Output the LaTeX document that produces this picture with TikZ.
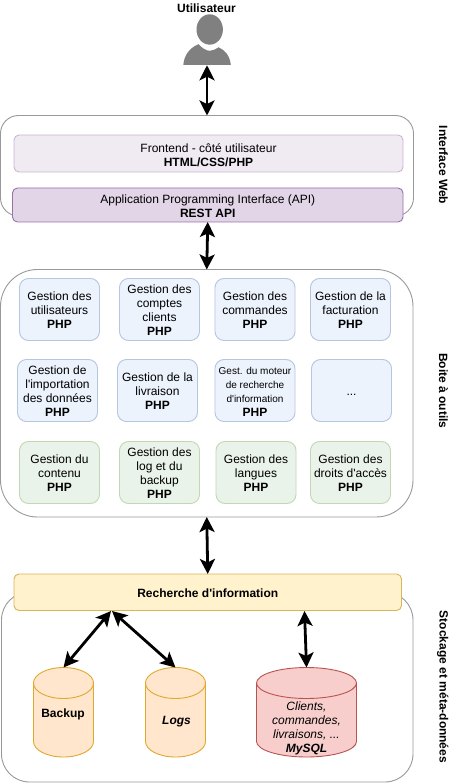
\documentclass[tikz,border=0pt]{standalone}
\usepackage{fontspec}
\setmainfont{Liberation Sans}
\newfontfamily\libfam{Liberation Sans}
\usetikzlibrary{arrows.meta}
\definecolor{outerc}{HTML}{999999}
\definecolor{frontf}{HTML}{F0EAF3}
\definecolor{frontd}{HTML}{CBB6D2}
\definecolor{apif}{HTML}{E1D5E7}
\definecolor{apid}{HTML}{9673A6}
\definecolor{bluef}{HTML}{ECF3FD}
\definecolor{blued}{HTML}{B5C6DF}
\definecolor{greenf}{HTML}{EAF3E9}
\definecolor{greend}{HTML}{C0D9B2}
\definecolor{yelf}{HTML}{FFF2CC}
\definecolor{yeld}{HTML}{D6B656}
\definecolor{oraf}{HTML}{FFE6CC}
\definecolor{orad}{HTML}{E0A92E}
\definecolor{redf}{HTML}{F8CECC}
\definecolor{redd}{HTML}{B85450}
\definecolor{persc}{HTML}{808080}
\newcommand{\ml}[1]{\rule{0pt}{12.3pt}#1\rule[-1.7pt]{0pt}{1.7pt}}
\tikzset{
  every node/.style={font=\libfam\fontsize{12}{14}\selectfont, align=center, inner sep=0pt, outer sep=0pt, text=black},
  outerbox/.style={draw=outerc, fill=white, line width=0.9pt, rounded corners=#1},
  wide/.style={draw, line width=0.9pt, rounded corners=5pt},
  tool/.style={draw, line width=0.9pt, rounded corners=9pt, minimum width=80pt, minimum height=62pt},
  bluebox/.style={tool, draw=blued, fill=bluef},
  greenbox/.style={tool, draw=greend, fill=greenf},
  sidelabel/.style={rotate=-90, font=\libfam\fontsize{12}{14}\selectfont\bfseries},
  dbl/.style={line width=2.8pt, {Stealth[length=15pt,width=15pt,inset=3.5pt]}-{Stealth[length=15pt,width=15pt,inset=3.5pt]}},
  cylshape/.style={line width=0.9pt}
}
% \cyl{name}{left x}{width}{fill}{draw}
\newcommand{\cyl}[5]{%
  \draw[cylshape, fill=#4, draw=#5] (#2,683) arc[start angle=180, end angle=360, x radius=#3/2, y radius=15.5]
    -- ++(0,58.5) arc[start angle=0, end angle=180, x radius=#3/2, y radius=15.5] -- cycle;
  \draw[cylshape, draw=#5] (#2,683) arc[start angle=180, end angle=0, x radius=#3/2, y radius=15.5];
  \node[minimum width=#3 pt, minimum height=89.5pt] (#1) at ({#2+#3/2},712.25) {};
}
\begin{document}
\begin{tikzpicture}[x=1pt,y=-1pt]
\path[use as bounding box] (0,0) rectangle (459,783);

% outer containers
\node[outerbox=18pt, minimum width=413pt, minimum height=100.5pt] (web) at (207,165.75) {};
\node[outerbox=37pt, minimum width=412.5pt, minimum height=247.5pt] (tools) at (206.75,393.25) {};
\node[outerbox=28pt, minimum width=411.5pt, minimum height=190pt] (store) at (207.25,687) {};

% person
\node[minimum width=47pt, minimum height=51pt] (user) at (207,39.75) {};
\fill[persc] (209.7,29.5) ellipse[x radius=13.2, y radius=15.2];
\fill[persc] (183.3,65) .. controls (184,56) and (189,48) .. (198.5,44.2)
  .. controls (202,48) and (206,50.8) .. (210,50.8)
  .. controls (213,50.8) and (216,49) .. (218.6,47.3)
  .. controls (225,50) and (230,56) .. (230.8,65) -- cycle;
\node[font=\libfam\fontsize{12}{14}\selectfont\bfseries] (ulabel) at (206.5,7) {\ml{Utilisateur}};

% web layer
\node[wide, draw=frontd, fill=frontf, minimum width=389pt, minimum height=37pt] (front) at (208.5,153.5)
  {\rule{0pt}{14.3pt}\ml{Frontend - côté utilisateur\\\textbf{HTML/CSS/PHP}}};
\node[wide, draw=apid, fill=apif, minimum width=390.5pt, minimum height=34pt] (api) at (207.75,205)
  {\ml{Application Programming Interface (API)\\\textbf{REST API}}};

% tools
\node[bluebox] (t11) at (59.5,309.5) {\ml{Gestion des\\utilisateurs\\\textbf{PHP}}};
\node[bluebox] (t12) at (159.5,309.5) {\ml{Gestion des\\comptes\\clients\\\textbf{PHP}}};
\node[bluebox] (t13) at (255,309.5) {\ml{Gestion des\\commandes\\\textbf{PHP}}};
\node[bluebox] (t14) at (350.5,309.5) {\ml{Gestion de la\\facturation\\\textbf{PHP}}};
\node[bluebox] (t21) at (57.5,390.5) {\ml{Gestion de\\l'importation\\des données\\\textbf{PHP}}};
\node[bluebox] (t22) at (157.5,390.5) {\ml{Gestion de la\\livraison\\\textbf{PHP}}};
\node[bluebox] (t23) at (255,390.5) {\ml{\fontsize{10}{14}\selectfont Gest. du moteur\\\fontsize{10}{14}\selectfont de recherche\\\fontsize{10}{14}\selectfont d'information\\\textbf{PHP}}};
\node[bluebox] (t24) at (351.5,390.5) {\ml{...}};
\node[greenbox] (t31) at (59.5,472.5) {\ml{Gestion du\\contenu\\\textbf{PHP}}};
\node[greenbox] (t32) at (159.5,472.5) {\ml{Gestion des\\log et du\\backup\\\textbf{PHP}}};
\node[greenbox] (t33) at (256,472.5) {\ml{Gestion des\\langues\\\textbf{PHP}}};
\node[greenbox] (t34) at (350.5,472.5) {\ml{Gestion des\\droits d'accès\\\textbf{PHP}}};

% search
\node[wide, draw=yeld, fill=yelf, minimum width=387.5pt, minimum height=36.5pt] (rech) at (207.75,592.25)
  {\ml{\textbf{Recherche d'information}}};

% databases
\cyl{backup}{33.5}{60}{oraf}{orad}
\cyl{logs}{145.5}{60}{oraf}{orad}
\cyl{mysql}{256.5}{100}{redf}{redd}
\node (backuplabel) at (63,712.75) {\ml{\textbf{Backup}}};
\node (logslabel) at (176.5,720) {\ml{\textbf{\itshape Logs}}};
\node (mysqllabel) at (306.5,727) {\ml{\itshape Clients,\\\itshape commandes,\\\itshape livraisons, ...\\\textbf{\itshape MySQL}}};

% side labels
\node[sidelabel] (s1) at (444.5,165) {\ml{Interface Web}};
\node[sidelabel] (s2) at (444.5,391) {\ml{Boite à outils}};
\node[sidelabel] (s3) at (444.5,687) {\ml{Stockage et méta-données}};

% connectors
\coordinate (ra) at (111,611);
\coordinate (rb) at (112,611);
\coordinate (rc) at (304.5,611);
\draw[dbl] (user.south) -- (web.north);
\draw[dbl] (api.south) -- (tools.north);
\draw[dbl] (tools.south) -- (rech.north);
\draw[dbl] (ra) -- (backup.north);
\draw[dbl] (rb) -- (logs.north);
\draw[dbl] (rc) -- (mysql.north);
\end{tikzpicture}
\end{document}
